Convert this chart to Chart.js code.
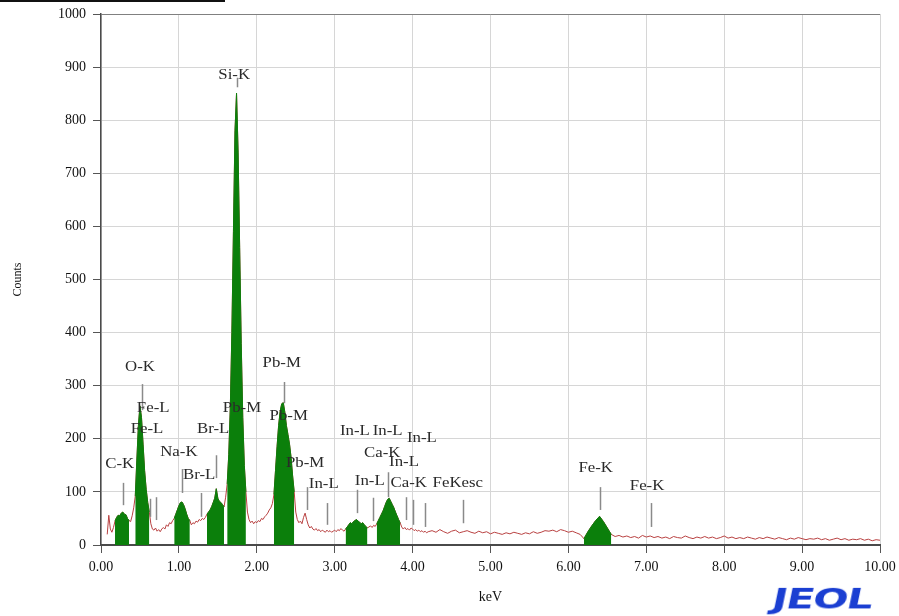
<!DOCTYPE html>
<html>
<head>
<meta charset="utf-8">
<script src="https://cdn.jsdelivr.net/npm/chart.js@4.4.0/dist/chart.umd.min.js"></script>
<style>
  html, body { margin: 0; padding: 0; background: #fff; }
  #wrap { position: relative; width: 899px; height: 616px; }
  #rule { position: absolute; left: 0; top: 0; width: 225px; height: 2px; background: #111; }
  #logo { position: absolute; left: 776px; top: 582px; font: bold 28px "DejaVu Sans"; color: #1b3fd2;
          transform-origin: left top; transform: scaleX(1.48) skewX(-8deg); letter-spacing: -1px; }
</style>
</head>
<body>
<div id="wrap">
  <canvas id="myChart" width="899" height="616"></canvas>
  <div id="rule"></div>
  <div id="logo">JEOL</div>
</div>
<script>
// spectrum, low part: 0.08 keV upwards, one value every 0.02 keV
const lowStart = 0.08;
const lowStep = 0.02;
const lowCounts = [
  20, 56, 30, 24, 33, 45, 52, 56, 55, 60,        // 0.08
  62, 58, 57, 50, 46, 44, 55, 70, 92, 160,       // 0.28
  225, 262, 240, 190, 140, 105, 80, 62, 40, 30,  // 0.48
  28, 32, 26, 29, 25, 30, 33, 30, 38, 35,        // 0.68
  42, 40, 46, 50, 58, 66, 74, 80, 81, 76,        // 0.88
  68, 58, 50, 46, 38, 42, 40, 45, 43, 48,        // 1.08
  46, 50, 48, 52, 58, 62, 66, 72, 80, 88,        // 1.28
  106, 88, 82, 80, 76, 72, 90, 115, 170, 260,    // 1.48
  400, 590, 780, 851, 740, 560, 380, 240, 150, 100, // 1.68
  62, 48, 42, 45, 40, 44, 42, 46, 44, 50,        // 1.88
  48, 53, 56, 60, 66, 70, 78, 95, 140, 185,      // 2.08
  225, 252, 266, 268, 250, 225, 208, 190, 165, 130, // 2.28
  100, 62, 48, 42, 45, 40, 52, 60, 48, 38,       // 2.48
  32, 35, 30, 28, 31, 27, 29, 25, 28, 26,        // 2.68
  24, 28, 25, 27, 24, 26, 28, 25, 29, 27,        // 2.88
  31, 28, 26, 30, 34, 38, 42, 40, 44, 46,        // 3.08
  48, 45, 43, 40, 42, 38, 35, 32, 34, 36,        // 3.28
  33, 37, 35, 40, 46, 52, 58, 64, 72, 80,        // 3.48
  86, 88, 82, 76, 70, 62, 55, 48, 42, 34,        // 3.68
  30, 33, 29, 31, 28, 32, 30, 27, 29, 26,        // 3.88
  28, 25, 27, 24, 26, 23, 25                     // 4.08
];
// spectrum, high part: 4.25 keV upwards, one value every 0.05 keV
const highStart = 4.25;
const highStep = 0.05;
const highCounts = [
  27, 24, 29, 25, 22, 26, 28, 23, 25, 27,  // 4.25
  24, 22, 26, 23, 25, 21, 24, 22, 20, 23,  // 4.75
  21, 24, 22, 20, 23, 21, 25, 22, 24, 27,  // 5.25
  26, 28, 25, 29, 27, 24, 26, 23, 20, 12,  // 5.75
  25, 36, 46, 54, 44, 32, 20, 16, 18, 15,  // 6.25
  17, 14, 16, 13, 18, 15, 17, 14, 16, 13,  // 6.75
  15, 12, 16, 14, 13, 17, 14, 12, 15, 13,  // 7.25
  16, 13, 15, 12, 14, 17, 13, 15, 12, 14,  // 7.75
  12, 15, 13, 11, 14, 12, 15, 13, 11, 14,  // 8.25
  12, 10, 13, 11, 14, 12, 10, 12, 11, 13,  // 8.75
  10, 12, 9, 11, 13, 10, 12, 9, 11, 10,    // 9.25
  12, 9, 11, 8, 10, 9                      // 9.75
];

// green regions of interest (keV from, keV to)
const roiRanges = [
  [0.18, 0.36], [0.44, 0.62], [0.94, 1.14], [1.36, 1.58], [1.62, 1.86],
  [2.22, 2.48], [3.14, 3.42], [3.54, 3.84], [6.20, 6.55]
];

// KLM marker lines
const markerEnergy = [0.277, 0.525, 0.63, 0.705, 1.04, 1.29, 1.48, 1.74, 2.345, 2.65,
                      2.90, 3.29, 3.49, 3.69, 3.92, 4.01, 4.16, 4.65, 6.40, 7.06];
const markerFrom = [75, 254, 53, 47, 98, 53, 126, 862, 267, 66, 38, 60, 45, 90, 47, 38, 34, 41, 66, 34];
const markerTo = [117, 303, 87, 90, 143, 98, 169, 880, 307, 109, 79, 104, 89, 137, 90, 85, 79, 85, 109, 79];

// peak labels
const labelText = ['Si-K', 'O-K', 'Fe-L', 'Fe-L', 'Na-K', 'C-K', 'Br-L', 'Br-L', 'Pb-M', 'Pb-M',
                   'Pb-M', 'Pb-M', 'In-L', 'In-L', 'In-L', 'In-L', 'Ca-K', 'In-L', 'In-L', 'Ca-K',
                   'FeKesc', 'Fe-K', 'Fe-K'];
const labelEnergy = [1.71, 0.50, 0.67, 0.59, 1.00, 0.24, 1.44, 1.26, 1.81, 2.32,
                     2.41, 2.62, 2.86, 3.26, 3.68, 4.12, 3.61, 3.89, 3.45, 3.95,
                     4.58, 6.35, 7.01];
const labelCounts = [885, 335, 258, 218, 175, 151, 218, 132, 258, 343,
                     243, 154, 115, 215, 215, 200, 173, 156, 119, 117,
                     117, 145, 111];

const xTicks = [0, 1, 2, 3, 4, 5, 6, 7, 8, 9, 10];
const yMax = 1000;
const yStep = 100;

const spectrum = lowCounts.map((c, i) => ({ x: +(lowStart + i * lowStep).toFixed(2), y: c }))
  .concat(highCounts.map((c, i) => ({ x: +(highStart + i * highStep).toFixed(2), y: c })));

const inRoi = x => roiRanges.some(r => x >= r[0] - 1e-6 && x <= r[1] + 1e-6);
const roiPoints = spectrum.map(p => ({ x: p.x, y: inRoi(p.x) ? p.y : null }));

const serif = 'Liberation Serif';

const peakMarks = {
  id: 'peakMarks',
  afterDatasetsDraw(chart) {
    const { ctx } = chart;
    const xs = chart.scales.x, ys = chart.scales.y;
    ctx.save();
    ctx.strokeStyle = '#8a8a8a';
    ctx.lineWidth = 1.5;
    markerEnergy.forEach((e, i) => {
      const px = Math.round(xs.getPixelForValue(e)) + 0.5;
      ctx.beginPath();
      ctx.moveTo(px, ys.getPixelForValue(markerFrom[i]));
      ctx.lineTo(px, ys.getPixelForValue(markerTo[i]));
      ctx.stroke();
    });
    ctx.fillStyle = '#2a2a2a';
    ctx.font = '14px "' + serif + '"';
    ctx.textAlign = 'center';
    ctx.textBaseline = 'middle';
    labelText.forEach((t, i) => {
      ctx.save();
      ctx.translate(xs.getPixelForValue(labelEnergy[i]), ys.getPixelForValue(labelCounts[i]));
      ctx.scale(1.2, 1);
      ctx.fillText(t, 0, 0);
      ctx.restore();
    });
    ctx.restore();
  }
};

const ctx = document.getElementById('myChart').getContext('2d');
const myChart = new Chart(ctx, {
  type: 'line',
  data: {
    datasets: [
      {
        label: 'spectrum',
        data: spectrum,
        borderColor: '#b84040',
        borderWidth: 1,
        pointRadius: 0,
        fill: false,
        tension: 0,
        order: 2
      },
      {
        label: 'roi',
        data: roiPoints,
        borderColor: '#0b7f0b',
        backgroundColor: '#0b7f0b',
        borderWidth: 1,
        pointRadius: 0,
        fill: 'origin',
        spanGaps: false,
        tension: 0,
        order: 1
      }
    ]
  },
  options: {
    responsive: false,
    animation: false,
    layout: { padding: { top: 14, right: 19, left: 0, bottom: 0 } },
    plugins: { legend: { display: false }, tooltip: { enabled: false } },
    scales: {
      x: {
        type: 'linear',
        min: 0,
        max: 10,
        afterBuildTicks: s => { s.ticks = xTicks.map(v => ({ value: v })); },
        afterFit: s => { s.height = 71; s.paddingLeft = 0; s.paddingRight = 0; },
        ticks: {
          callback: v => v.toFixed(2),
          font: { family: serif, size: 14 },
          color: '#111',
          padding: 6,
          maxRotation: 0,
          autoSkip: false
        },
        grid: { color: '#d6d6d6', tickColor: '#555', tickLength: 8, lineWidth: 1 },
        border: { color: '#4a4a4a', width: 2 },
        title: { display: true, text: 'keV', font: { family: serif, size: 14 }, color: '#111',
                 padding: { top: 0, bottom: 10 } }
      },
      y: {
        min: 0,
        max: yMax,
        afterFit: s => { s.width = 101; s.paddingTop = 0; s.paddingBottom = 0; },
        ticks: {
          stepSize: yStep,
          callback: v => String(v),
          font: { family: serif, size: 14 },
          color: '#111',
          padding: 7
        },
        grid: {
          color: c => (c.tick && c.tick.value === yMax ? '#808080' : '#d6d6d6'),
          tickColor: '#555',
          tickLength: 8,
          lineWidth: 1
        },
        border: { color: '#4a4a4a', width: 1.5 },
        title: { display: true, text: 'Counts', font: { family: serif, size: 12 }, color: '#111',
                 padding: { top: 11, bottom: 0 } }
      }
    }
  },
  plugins: [peakMarks]
});
</script>
</body>
</html>
